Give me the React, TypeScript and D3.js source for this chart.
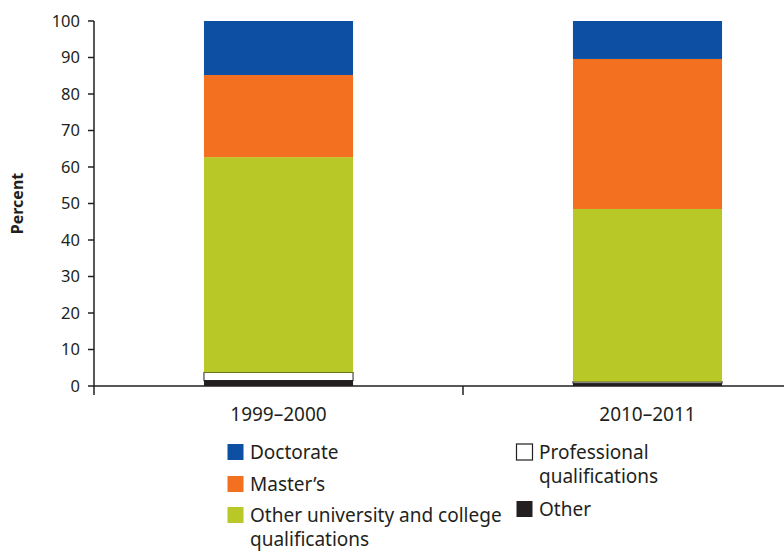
import React from 'react';
import * as d3 from 'd3';

const categories = ['1999–2000', '2010–2011'];
const otherVals = [1.5, 0.8];
const professionalVals = [2.2, 0.4];
const otherUniVals = [59.0, 47.3];
const mastersVals = [22.5, 41.1];
const doctorateVals = [14.8, 10.4];
const yTicks = [0, 10, 20, 30, 40, 50, 60, 70, 80, 90, 100];

const seriesKeys = ['other', 'professional', 'otherUni', 'masters', 'doctorate'];
const colors: Record<string, string> = {
  other: '#231f20',
  professional: '#ffffff',
  otherUni: '#b8c827',
  masters: '#f37021',
  doctorate: '#0c4fa3'
};

const W = 784;
const H = 551;
const pad = { left: 94, top: 21, bottom: 165 };
const FONT = '"Noto Sans", sans-serif';
const TEXT = '#231f20';

export default function App() {
  const rows = categories.map((c, i) => ({
    cat: c,
    other: otherVals[i],
    professional: professionalVals[i],
    otherUni: otherUniVals[i],
    masters: mastersVals[i],
    doctorate: doctorateVals[i]
  }));
  const stack = d3.stack<any>().keys(seriesKeys)(rows);

  const x = d3.scaleBand().domain(categories).range([pad.left, pad.left + 738]).paddingInner(0).paddingOuter(0);
  const y = d3.scaleLinear().domain([0, 100]).range([H - pad.bottom, pad.top]);
  const barW = x.bandwidth() * 0.404;
  const y0 = y(0);

  const legendLeft = [
    { key: 'doctorate', lines: ['Doctorate'], y: 452 },
    { key: 'masters', lines: ['Master’s'], y: 484 },
    { key: 'otherUni', lines: ['Other university and college', 'qualifications'], y: 515 }
  ];
  const legendRight = [
    { key: 'professional', lines: ['Professional', 'qualifications'], y: 452 },
    { key: 'other', lines: ['Other'], y: 509 }
  ];

  return (
    <svg width={W} height={H} style={{ position: 'absolute', left: 0, top: 0 }} fontFamily={FONT}>
      {stack.map((s) => (
        <g key={s.key}>
          {s.map((d, i) => (
            <rect
              key={i}
              x={x(categories[i])! + (x.bandwidth() - barW) / 2}
              y={y(d[1])}
              width={barW}
              height={y(d[0]) - y(d[1])}
              fill={colors[s.key]}
              stroke={s.key === 'professional' ? '#231f20' : 'none'}
              strokeWidth={1}
            />
          ))}
        </g>
      ))}

      {/* y axis */}
      <line x1={pad.left} x2={pad.left} y1={y(100)} y2={y0 + 9} stroke={TEXT} strokeWidth={1.5} />
      {yTicks.map((t) => (
        <g key={t}>
          <line x1={pad.left - 6} x2={pad.left} y1={y(t)} y2={y(t)} stroke={TEXT} strokeWidth={1.5} />
          <text x={pad.left - 14} y={y(t)} dy="0.36em" textAnchor="end" fontSize={16.5} fill={TEXT}>{t}</text>
        </g>
      ))}
      <text transform={`translate(23,${(y(0) + y(100)) / 2}) rotate(-90)`} textAnchor="middle" fontSize={16} fontWeight="bold" fill={TEXT}>Percent</text>

      {/* x axis */}
      <line x1={pad.left} x2={W} y1={y0} y2={y0} stroke={TEXT} strokeWidth={1.5} />
      {categories.slice(1).map((c) => (
        <line key={c} x1={x(c)!} x2={x(c)!} y1={y0} y2={y0 + 9} stroke={TEXT} strokeWidth={1.5} />
      ))}
      {categories.map((c) => (
        <text key={c} x={x(c)! + x.bandwidth() / 2} y={421} textAnchor="middle" fontSize={19} fill={TEXT}>{c}</text>
      ))}

      {/* legend */}
      {[{ items: legendLeft, x: 227 }, { items: legendRight, x: 516 }].map((col, ci) => (
        <g key={ci}>
          {col.items.map((it) => (
            <g key={it.key}>
              <rect
                x={col.x + 0.5}
                y={it.y - 8}
                width={16}
                height={16}
                fill={colors[it.key]}
                stroke={it.key === 'professional' ? TEXT : 'none'}
                strokeWidth={1.2}
              />
              {it.lines.map((ln, li) => (
                <text key={li} x={col.x + 23} y={it.y + li * 24} dy="0.35em" fontSize={19} fill={TEXT}>{ln}</text>
              ))}
            </g>
          ))}
        </g>
      ))}
    </svg>
  );
}
